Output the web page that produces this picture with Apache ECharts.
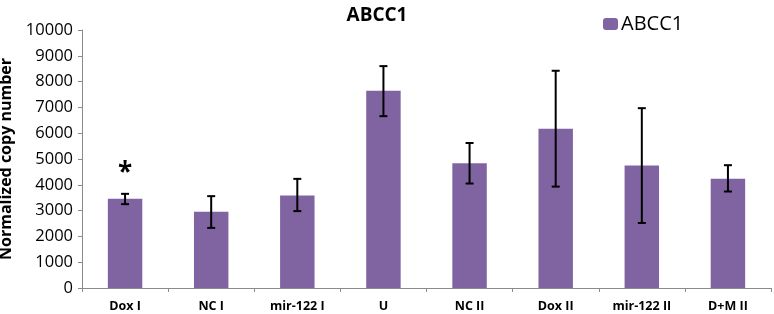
<!DOCTYPE html>
<html>
<head>
<meta charset="utf-8">
<script src="https://cdn.jsdelivr.net/npm/echarts@6/dist/echarts.min.js"></script>
<style>
  html, body { margin: 0; padding: 0; background: #fff; }
  #chart { width: 774px; height: 314px; }
</style>
</head>
<body>
<div id="chart"></div>
<script>
// data
var categories = ['Dox I', 'NC I', 'mir-122 I', 'U', 'NC II', 'Dox II', 'mir-122 II', 'D+M II'];
var means = [3460, 2960, 3590, 7650, 4840, 6170, 4750, 4230];
var errLow = [3250, 2330, 2980, 6660, 4050, 3930, 2520, 3740];
var errHigh = [3650, 3560, 4230, 8600, 5620, 8420, 6970, 4760];

var myChart = echarts.init(document.getElementById('chart'));

var errData = categories.map(function (c, i) {
    return [i, errLow[i], errHigh[i]];
});

var option = {
    animation: false,
    title: {
        text: 'ABCC1',
        left: 372,
        top: 1,
        textAlign: 'center',
        textStyle: { fontFamily: 'Open Sans', fontWeight: 'bold', fontSize: 19, color: '#000' }
    },
    legend: {
        data: ['ABCC1'],
        left: 598,
        top: 9,
        itemWidth: 15,
        itemHeight: 12,
        itemGap: 4,
        textStyle: { fontFamily: 'Open Sans', fontSize: 20, color: '#000', padding: [0, 0, 0, -2] }
    },
    grid: { left: 82, right: 3, top: 30, bottom: 26, containLabel: false, outerBoundsMode: 'none' },
    xAxis: {
        type: 'category',
        data: categories,
        axisLine: { lineStyle: { color: '#8a8a8a', width: 1 } },
        axisTick: { show: true, length: 4, alignWithLabel: false, lineStyle: { color: '#8a8a8a' } },
        axisLabel: { fontFamily: 'Open Sans', fontWeight: 'bold', fontSize: 12.5, color: '#000', margin: 12 }
    },
    yAxis: {
        type: 'value',
        min: 0,
        max: 10000,
        interval: 1000,
        name: 'Normalized copy number',
        nameLocation: 'middle',
        nameGap: 61,
        nameTextStyle: { fontFamily: 'Open Sans', fontWeight: 'bold', fontSize: 16, color: '#000' },
        axisLine: { show: true, lineStyle: { color: '#8a8a8a', width: 1 } },
        axisTick: { show: true, length: 4, lineStyle: { color: '#8a8a8a' } },
        axisLabel: {
            fontFamily: 'Open Sans', fontSize: 16.5, color: '#000', margin: 9,
            formatter: function (v) { return String(v); }
        },
        splitLine: { show: false }
    },
    series: [
        {
            name: 'ABCC1',
            type: 'bar',
            data: means,
            barWidth: '40%',
            itemStyle: { color: '#8064a2' },
            markPoint: {
                symbol: 'circle',
                symbolSize: 0,
                data: [{ coord: ['Dox I', 4450], value: '*' }],
                label: {
                    show: true,
                    formatter: '*',
                    fontFamily: 'Open Sans',
                    fontWeight: 'bold',
                    fontSize: 26,
                    color: '#000'
                }
            }
        },
        {
            name: 'error',
            type: 'custom',
            data: errData,
            z: 10,
            renderItem: function (params, api) {
                var x = api.value(0);
                var lo = api.coord([x, api.value(1)]);
                var hi = api.coord([x, api.value(2)]);
                var w = 4;
                var style = { stroke: '#000', lineWidth: 2 };
                return {
                    type: 'group',
                    children: [
                        { type: 'line', shape: { x1: lo[0], y1: lo[1], x2: hi[0], y2: hi[1] }, style: style },
                        { type: 'line', shape: { x1: lo[0] - w, y1: lo[1], x2: lo[0] + w, y2: lo[1] }, style: style },
                        { type: 'line', shape: { x1: hi[0] - w, y1: hi[1], x2: hi[0] + w, y2: hi[1] }, style: style }
                    ]
                };
            }
        }
    ]
};

myChart.setOption(option);
</script>
</body>
</html>
